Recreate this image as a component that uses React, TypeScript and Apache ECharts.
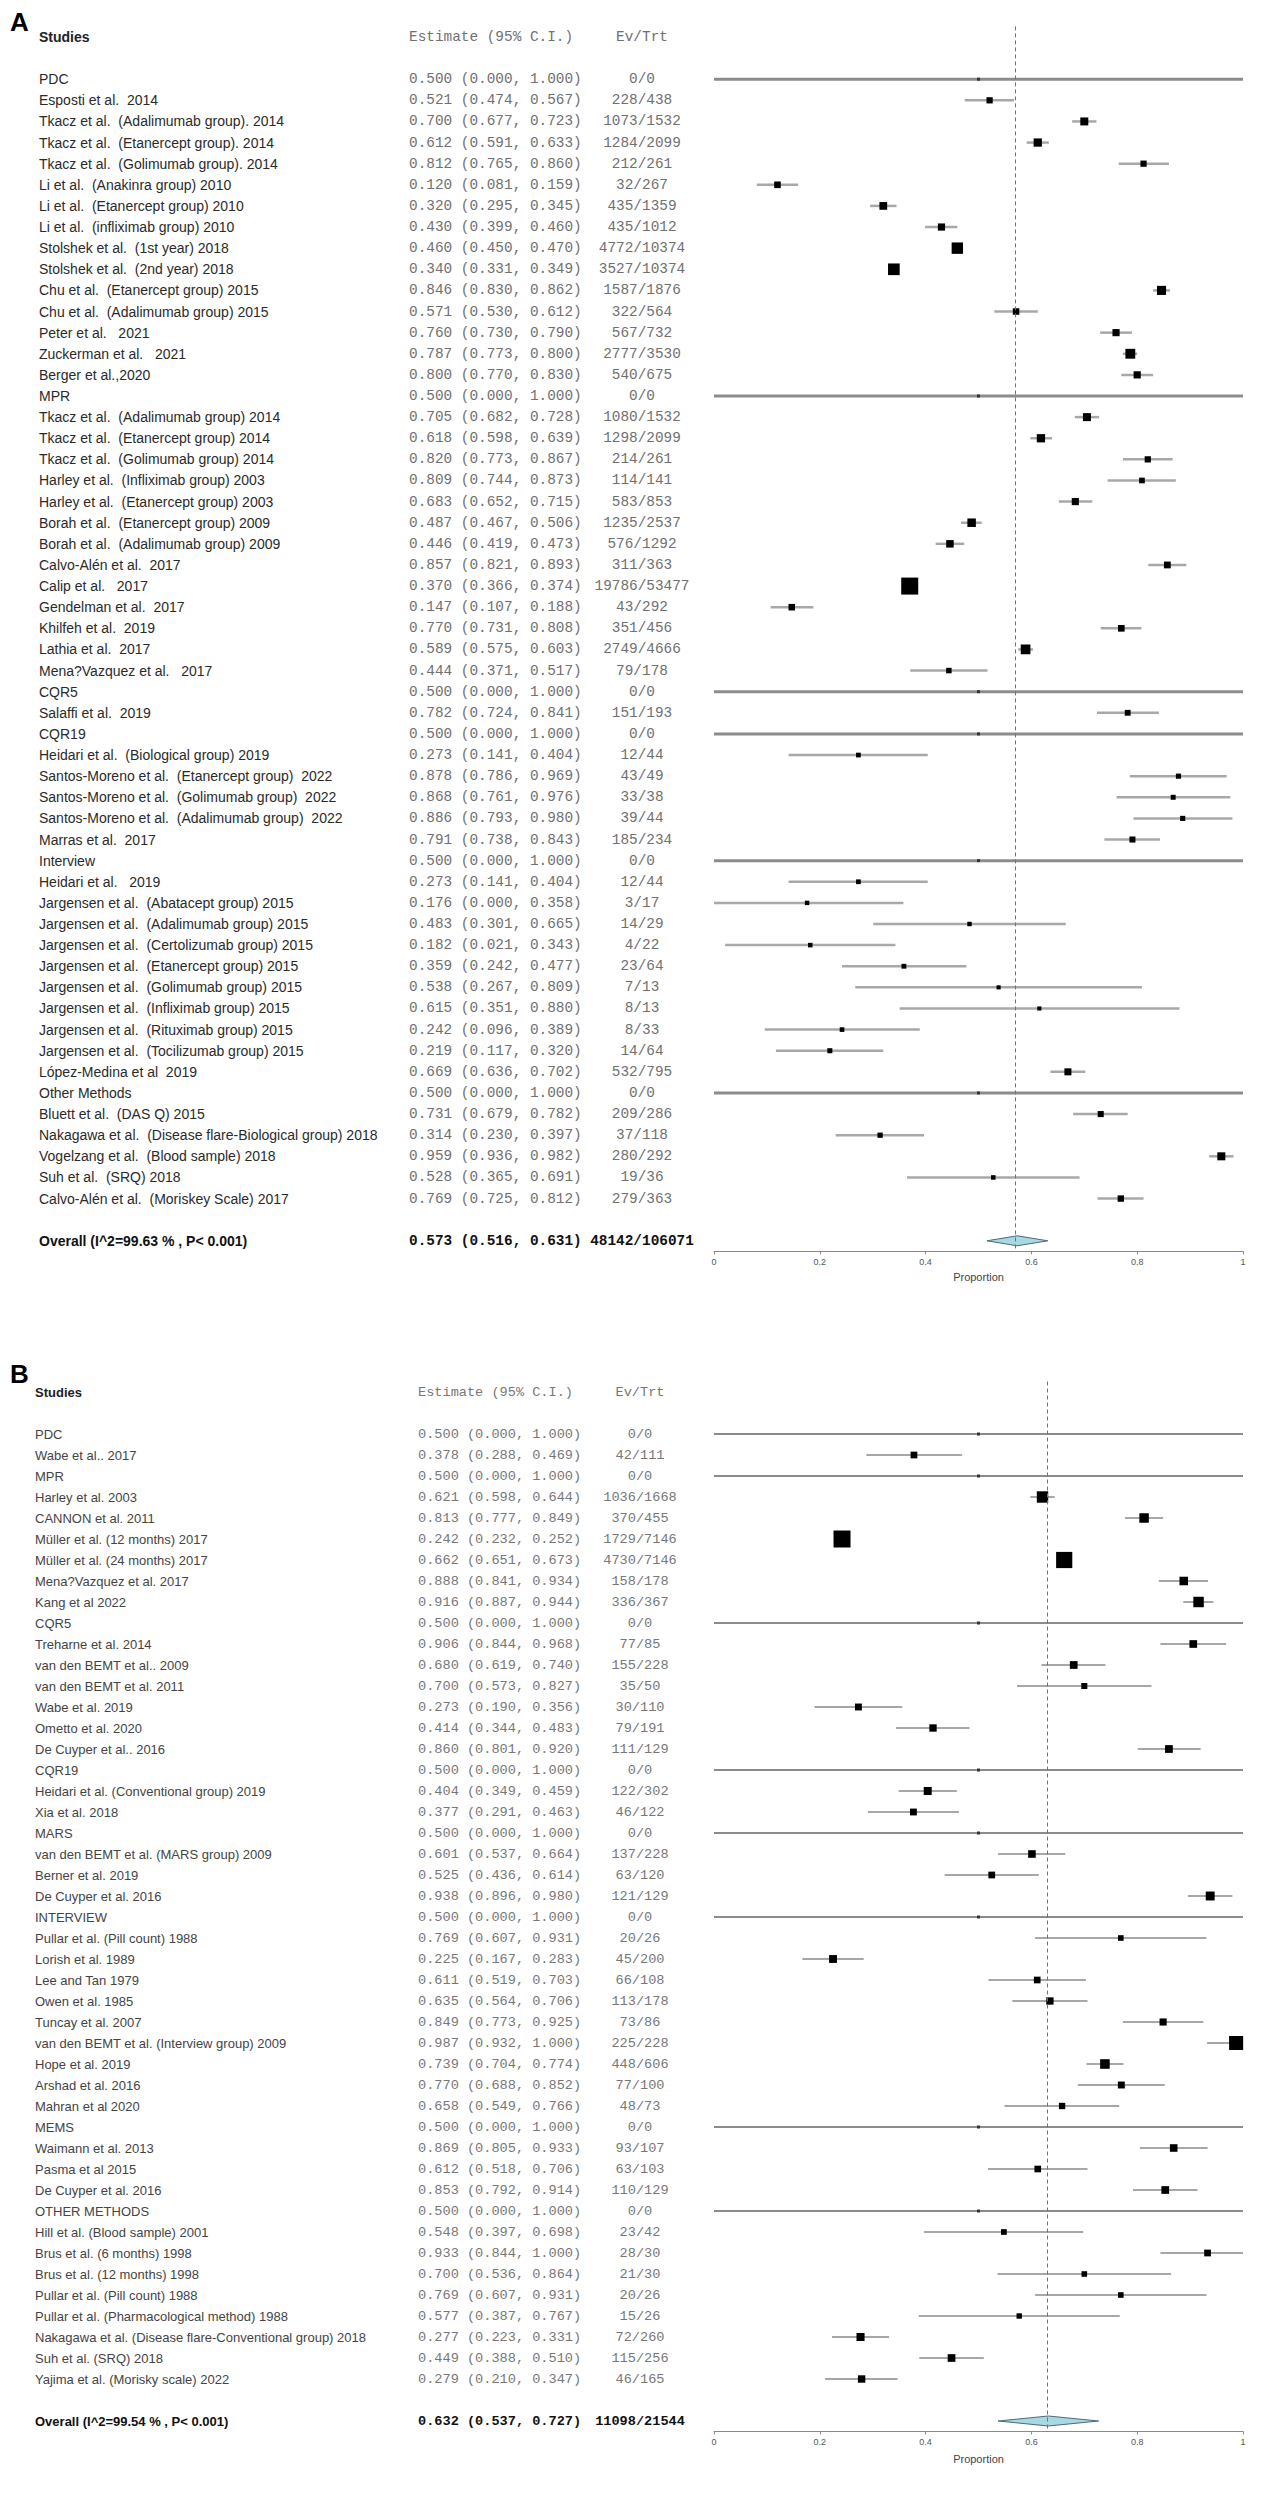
import React, { useEffect, useRef } from "react";
import * as echarts from "echarts";

// ---------- Panel A data ----------
const namesA: string[] = [
  "PDC",
  "Esposti et al.  2014",
  "Tkacz et al.  (Adalimumab group). 2014",
  "Tkacz et al.  (Etanercept group). 2014",
  "Tkacz et al.  (Golimumab group). 2014",
  "Li et al.  (Anakinra group) 2010",
  "Li et al.  (Etanercept group) 2010",
  "Li et al.  (infliximab group) 2010",
  "Stolshek et al.  (1st year) 2018",
  "Stolshek et al.  (2nd year) 2018",
  "Chu et al.  (Etanercept group) 2015",
  "Chu et al.  (Adalimumab group) 2015",
  "Peter et al.   2021",
  "Zuckerman et al.   2021",
  "Berger et al.,2020",
  "MPR",
  "Tkacz et al.  (Adalimumab group) 2014",
  "Tkacz et al.  (Etanercept group) 2014",
  "Tkacz et al.  (Golimumab group) 2014",
  "Harley et al.  (Infliximab group) 2003",
  "Harley et al.  (Etanercept group) 2003",
  "Borah et al.  (Etanercept group) 2009",
  "Borah et al.  (Adalimumab group) 2009",
  "Calvo-Alén et al.  2017",
  "Calip et al.   2017",
  "Gendelman et al.  2017",
  "Khilfeh et al.  2019",
  "Lathia et al.  2017",
  "Mena?Vazquez et al.   2017",
  "CQR5",
  "Salaffi et al.  2019",
  "CQR19",
  "Heidari et al.  (Biological group) 2019",
  "Santos-Moreno et al.  (Etanercept group)  2022",
  "Santos-Moreno et al.  (Golimumab group)  2022",
  "Santos-Moreno et al.  (Adalimumab group)  2022",
  "Marras et al.  2017",
  "Interview",
  "Heidari et al.   2019",
  "Jargensen et al.  (Abatacept group) 2015",
  "Jargensen et al.  (Adalimumab group) 2015",
  "Jargensen et al.  (Certolizumab group) 2015",
  "Jargensen et al.  (Etanercept group) 2015",
  "Jargensen et al.  (Golimumab group) 2015",
  "Jargensen et al.  (Infliximab group) 2015",
  "Jargensen et al.  (Rituximab group) 2015",
  "Jargensen et al.  (Tocilizumab group) 2015",
  "López-Medina et al  2019",
  "Other Methods",
  "Bluett et al.  (DAS Q) 2015",
  "Nakagawa et al.  (Disease flare-Biological group) 2018",
  "Vogelzang et al.  (Blood sample) 2018",
  "Suh et al.  (SRQ) 2018",
  "Calvo-Alén et al.  (Moriskey Scale) 2017",
];
const estA: number[] = [
  0.5, 0.521, 0.7, 0.612, 0.812, 0.12, 0.32, 0.43, 0.46, 0.34, 0.846, 0.571, 0.76, 0.787, 0.8,
  0.5, 0.705, 0.618, 0.82, 0.809, 0.683, 0.487, 0.446, 0.857, 0.37, 0.147, 0.77, 0.589, 0.444,
  0.5, 0.782,
  0.5, 0.273, 0.878, 0.868, 0.886, 0.791,
  0.5, 0.273, 0.176, 0.483, 0.182, 0.359, 0.538, 0.615, 0.242, 0.219, 0.669,
  0.5, 0.731, 0.314, 0.959, 0.528, 0.769,
];
const loA: number[] = [
  0.0, 0.474, 0.677, 0.591, 0.765, 0.081, 0.295, 0.399, 0.45, 0.331, 0.83, 0.53, 0.73, 0.773, 0.77,
  0.0, 0.682, 0.598, 0.773, 0.744, 0.652, 0.467, 0.419, 0.821, 0.366, 0.107, 0.731, 0.575, 0.371,
  0.0, 0.724,
  0.0, 0.141, 0.786, 0.761, 0.793, 0.738,
  0.0, 0.141, 0.0, 0.301, 0.021, 0.242, 0.267, 0.351, 0.096, 0.117, 0.636,
  0.0, 0.679, 0.23, 0.936, 0.365, 0.725,
];
const hiA: number[] = [
  1.0, 0.567, 0.723, 0.633, 0.86, 0.159, 0.345, 0.46, 0.47, 0.349, 0.862, 0.612, 0.79, 0.8, 0.83,
  1.0, 0.728, 0.639, 0.867, 0.873, 0.715, 0.506, 0.473, 0.893, 0.374, 0.188, 0.808, 0.603, 0.517,
  1.0, 0.841,
  1.0, 0.404, 0.969, 0.976, 0.98, 0.843,
  1.0, 0.404, 0.358, 0.665, 0.343, 0.477, 0.809, 0.88, 0.389, 0.32, 0.702,
  1.0, 0.782, 0.397, 0.982, 0.691, 0.812,
];
const evA: number[] = [
  0, 228, 1073, 1284, 212, 32, 435, 435, 4772, 3527, 1587, 322, 567, 2777, 540,
  0, 1080, 1298, 214, 114, 583, 1235, 576, 311, 19786, 43, 351, 2749, 79,
  0, 151,
  0, 12, 43, 33, 39, 185,
  0, 12, 3, 14, 4, 23, 7, 8, 8, 14, 532,
  0, 209, 37, 280, 19, 279,
];
const trtA: number[] = [
  0, 438, 1532, 2099, 261, 267, 1359, 1012, 10374, 10374, 1876, 564, 732, 3530, 675,
  0, 1532, 2099, 261, 141, 853, 2537, 1292, 363, 53477, 292, 456, 4666, 178,
  0, 193,
  0, 44, 49, 38, 44, 234,
  0, 44, 17, 29, 22, 64, 13, 13, 33, 64, 795,
  0, 286, 118, 292, 36, 363,
];
const overallLabelA = "Overall (I^2=99.63 % , P< 0.001)";
const overallA: number[] = [0.573, 0.516, 0.631];
const overallCountsA: number[] = [48142, 106071];

// ---------- Panel B data ----------
const namesB: string[] = [
  "PDC",
  "Wabe et al.. 2017",
  "MPR",
  "Harley et al. 2003",
  "CANNON et al. 2011",
  "Müller et al. (12 months) 2017",
  "Müller et al. (24 months) 2017",
  "Mena?Vazquez et al. 2017",
  "Kang et al 2022",
  "CQR5",
  "Treharne et al. 2014",
  "van den BEMT et al.. 2009",
  "van den BEMT et al. 2011",
  "Wabe et al. 2019",
  "Ometto et al. 2020",
  "De Cuyper et al.. 2016",
  "CQR19",
  "Heidari et al. (Conventional group) 2019",
  "Xia et al. 2018",
  "MARS",
  "van den BEMT et al. (MARS group) 2009",
  "Berner et al. 2019",
  "De Cuyper et al. 2016",
  "INTERVIEW",
  "Pullar et al. (Pill count) 1988",
  "Lorish et al. 1989",
  "Lee and Tan 1979",
  "Owen et al. 1985",
  "Tuncay et al. 2007",
  "van den BEMT et al. (Interview group) 2009",
  "Hope et al. 2019",
  "Arshad et al. 2016",
  "Mahran et al 2020",
  "MEMS",
  "Waimann et al. 2013",
  "Pasma et al 2015",
  "De Cuyper et al. 2016",
  "OTHER METHODS",
  "Hill et al. (Blood sample) 2001",
  "Brus et al. (6 months) 1998",
  "Brus et al. (12 months) 1998",
  "Pullar et al. (Pill count) 1988",
  "Pullar et al. (Pharmacological method) 1988",
  "Nakagawa et al. (Disease flare-Conventional group) 2018",
  "Suh et al. (SRQ) 2018",
  "Yajima et al. (Morisky scale) 2022",
];
const estB: number[] = [
  0.5, 0.378,
  0.5, 0.621, 0.813, 0.242, 0.662, 0.888, 0.916,
  0.5, 0.906, 0.68, 0.7, 0.273, 0.414, 0.86,
  0.5, 0.404, 0.377,
  0.5, 0.601, 0.525, 0.938,
  0.5, 0.769, 0.225, 0.611, 0.635, 0.849, 0.987, 0.739, 0.77, 0.658,
  0.5, 0.869, 0.612, 0.853,
  0.5, 0.548, 0.933, 0.7, 0.769, 0.577, 0.277, 0.449, 0.279,
];
const loB: number[] = [
  0.0, 0.288,
  0.0, 0.598, 0.777, 0.232, 0.651, 0.841, 0.887,
  0.0, 0.844, 0.619, 0.573, 0.19, 0.344, 0.801,
  0.0, 0.349, 0.291,
  0.0, 0.537, 0.436, 0.896,
  0.0, 0.607, 0.167, 0.519, 0.564, 0.773, 0.932, 0.704, 0.688, 0.549,
  0.0, 0.805, 0.518, 0.792,
  0.0, 0.397, 0.844, 0.536, 0.607, 0.387, 0.223, 0.388, 0.21,
];
const hiB: number[] = [
  1.0, 0.469,
  1.0, 0.644, 0.849, 0.252, 0.673, 0.934, 0.944,
  1.0, 0.968, 0.74, 0.827, 0.356, 0.483, 0.92,
  1.0, 0.459, 0.463,
  1.0, 0.664, 0.614, 0.98,
  1.0, 0.931, 0.283, 0.703, 0.706, 0.925, 1.0, 0.774, 0.852, 0.766,
  1.0, 0.933, 0.706, 0.914,
  1.0, 0.698, 1.0, 0.864, 0.931, 0.767, 0.331, 0.51, 0.347,
];
const evB: number[] = [
  0, 42,
  0, 1036, 370, 1729, 4730, 158, 336,
  0, 77, 155, 35, 30, 79, 111,
  0, 122, 46,
  0, 137, 63, 121,
  0, 20, 45, 66, 113, 73, 225, 448, 77, 48,
  0, 93, 63, 110,
  0, 23, 28, 21, 20, 15, 72, 115, 46,
];
const trtB: number[] = [
  0, 111,
  0, 1668, 455, 7146, 7146, 178, 367,
  0, 85, 228, 50, 110, 191, 129,
  0, 302, 122,
  0, 228, 120, 129,
  0, 26, 200, 108, 178, 86, 228, 606, 100, 73,
  0, 107, 103, 129,
  0, 42, 30, 30, 26, 26, 260, 256, 165,
];
const overallLabelB = "Overall (I^2=99.54 % , P< 0.001)";
const overallB: number[] = [0.632, 0.537, 0.727];
const overallCountsB: number[] = [11098, 21544];

const xTicks: number[] = [0, 0.2, 0.4, 0.6, 0.8, 1];

const SANS = "'Liberation Sans', Arial, sans-serif";
const MONO = "'Courier New', 'Liberation Mono', monospace";

const PLOT_LEFT = 714;
const PLOT_WIDTH = 529;

interface PanelData {
  names: string[];
  est: number[];
  lo: number[];
  hi: number[];
  ev: number[];
  trt: number[];
  overallLabel: string;
  overall: number[];
  overallCounts: number[];
}
interface PanelLayout {
  top: number;
  rowH: number;
  nameX: number;
  nameSize: number;
  estX: number;
  evX: number;
  monoSize: number;
  nameColor: string;
  monoColor: string;
  ciColor: string;
  ciWidth: number;
  hdrColor: string;
  hdrWidth: number;
  nameGap: number;
}

function buildPanel(d: PanelData, gi: number, L: PanelLayout) {
  const n = d.names.length;
  const rows = n + 4;
  const cats = Array.from({ length: rows }, (_, i) => String(i));
  const fmt = (v: number) => v.toFixed(3);

  const weights = d.trt.map((t, i) => (t > 0 ? t / (d.est[i] * (1 - d.est[i])) : 0));
  const wmax = Math.max(...weights);
  const sizes = weights.map((w) => (w > 0 ? 3 + 14 * Math.pow(w / wmax, 0.3) : 3));

  const grid = { left: PLOT_LEFT, width: PLOT_WIDTH, top: L.top, height: rows * L.rowH };
  const xAxis = {
    gridIndex: gi,
    type: "value",
    min: 0,
    max: 1,
    interval: 0.2,
    position: "bottom",
    name: "Proportion",
    nameLocation: "middle",
    nameGap: L.nameGap,
    nameTextStyle: { fontFamily: SANS, fontSize: 11, color: "#444" },
    axisLine: { show: true, lineStyle: { color: "#8a8a8a", width: 1 } },
    axisTick: { show: true, length: 3, lineStyle: { color: "#8a8a8a" } },
    splitLine: { show: false },
    axisLabel: {
      fontFamily: SANS,
      fontSize: 9,
      color: "#555",
      margin: 6,
      formatter: (v: number) => {
        const t = xTicks.find((x) => Math.abs(x - v) < 1e-6);
        return t === undefined ? "" : String(t);
      },
    },
  };

  const baseY = {
    gridIndex: gi,
    type: "category",
    inverse: true,
    data: cats,
    position: "left",
    axisLine: { show: false },
    axisTick: { show: false },
    splitLine: { show: false },
  };
  const nameRich = {
    h: { fontFamily: SANS, fontSize: L.nameSize, fontWeight: "bold", color: "#222" },
    n: { fontFamily: SANS, fontSize: L.nameSize, color: L.nameColor },
    b: { fontFamily: SANS, fontSize: L.nameSize, fontWeight: "bold", color: "#111" },
  };
  const monoRich = {
    h: { fontFamily: MONO, fontSize: L.monoSize, color: L.monoColor },
    n: { fontFamily: MONO, fontSize: L.monoSize, color: L.monoColor },
    b: { fontFamily: MONO, fontSize: L.monoSize, fontWeight: "bold", color: "#111" },
  };
  const yNames = {
    ...baseY,
    axisLabel: {
      interval: 0,
      align: "left",
      margin: PLOT_LEFT - L.nameX,
      rich: nameRich,
      formatter: (v: string) => {
        const i = Number(v);
        if (i === 0) return "{h|Studies}";
        if (i === n + 3) return "{b|" + d.overallLabel + "}";
        if (i < 2 || i > n + 1) return "";
        return "{n|" + d.names[i - 2] + "}";
      },
    },
  };
  const yEst = {
    ...baseY,
    axisLabel: {
      interval: 0,
      align: "left",
      margin: PLOT_LEFT - L.estX,
      rich: monoRich,
      formatter: (v: string) => {
        const i = Number(v);
        if (i === 0) return "{h|Estimate (95% C.I.)}";
        if (i === n + 3)
          return "{b|" + fmt(d.overall[0]) + " (" + fmt(d.overall[1]) + ", " + fmt(d.overall[2]) + ")}";
        if (i < 2 || i > n + 1) return "";
        const k = i - 2;
        return "{n|" + fmt(d.est[k]) + " (" + fmt(d.lo[k]) + ", " + fmt(d.hi[k]) + ")}";
      },
    },
  };
  const yEv = {
    ...baseY,
    axisLabel: {
      interval: 0,
      align: "center",
      margin: PLOT_LEFT - L.evX,
      rich: monoRich,
      formatter: (v: string) => {
        const i = Number(v);
        if (i === 0) return "{h|Ev/Trt}";
        if (i === n + 3) return "{b|" + d.overallCounts[0] + "/" + d.overallCounts[1] + "}";
        if (i < 2 || i > n + 1) return "";
        const k = i - 2;
        return "{n|" + d.ev[k] + "/" + d.trt[k] + "}";
      },
    },
  };

  const yBase = gi * 3;
  const studyData = d.names.map((_, k) => [
    d.lo[k],
    d.hi[k],
    k + 2,
    d.est[k],
    sizes[k],
    d.trt[k] === 0 ? 1 : 0,
  ]);

  const series: any[] = [
    {
      type: "custom",
      xAxisIndex: gi,
      yAxisIndex: yBase,
      data: studyData,
      encode: { x: [0, 1, 3], y: 2 },
      renderItem: (_p: any, api: any) => {
        const lo = api.value(0);
        const hi = api.value(1);
        const row = api.value(2);
        const est = api.value(3);
        const size = api.value(4);
        const hdr = api.value(5) === 1;
        const a = api.coord([lo, row]);
        const b = api.coord([hi, row]);
        const c = api.coord([est, row]);
        return {
          type: "group",
          children: [
            {
              type: "line",
              shape: { x1: a[0], y1: a[1], x2: b[0], y2: b[1] },
              style: { stroke: hdr ? L.hdrColor : L.ciColor, lineWidth: hdr ? L.hdrWidth : L.ciWidth },
            },
            {
              type: "rect",
              shape: { x: c[0] - size / 2, y: c[1] - size / 2, width: size, height: size },
              style: { fill: hdr ? "#333" : "#000" },
            },
          ],
        };
      },
    },
    {
      type: "custom",
      xAxisIndex: gi,
      yAxisIndex: yBase,
      data: [[d.overall[1], d.overall[2], n + 3, d.overall[0]]],
      encode: { x: [0, 1, 3], y: 2 },
      renderItem: (_p: any, api: any) => {
        const row = api.value(2);
        const a = api.coord([api.value(0), row]);
        const b = api.coord([api.value(1), row]);
        const c = api.coord([api.value(3), row]);
        const h = 5;
        return {
          type: "polygon",
          shape: { points: [[a[0], a[1]], [c[0], c[1] - h], [b[0], b[1]], [c[0], c[1] + h]] },
          style: { fill: "#a9d7e4", stroke: "#4a6b78", lineWidth: 1 },
        };
      },
    },
    {
      type: "scatter",
      xAxisIndex: gi,
      yAxisIndex: yBase,
      data: [[d.overall[0], n + 3]],
      symbolSize: 0,
      silent: true,
      markLine: {
        silent: true,
        symbol: ["none", "none"],
        label: { show: false },
        lineStyle: { color: "#e0453a", type: [4, 3], width: 1 },
        data: [{ xAxis: d.overall[0] }],
      },
    },
  ];

  return { grid, xAxis, yAxes: [yNames, yEst, yEv], series };
}

export default function App() {
  const ref = useRef<HTMLDivElement>(null);
  useEffect(() => {
    if (!ref.current) return;
    const chart = echarts.init(ref.current, undefined, { renderer: "svg" });
    const A = buildPanel(
      {
        names: namesA, est: estA, lo: loA, hi: hiA, ev: evA, trt: trtA,
        overallLabel: overallLabelA, overall: overallA, overallCounts: overallCountsA,
      },
      0,
      {
        top: 26.4, rowH: 21.12, nameX: 39, nameSize: 14, estX: 409, evX: 642, monoSize: 14.4,
        nameColor: "#2a2a2a", monoColor: "#707070", ciColor: "#a8a8a8", ciWidth: 2.5,
        hdrColor: "#8c8c8c", hdrWidth: 3, nameGap: 20,
      }
    );
    const B = buildPanel(
      {
        names: namesB, est: estB, lo: loB, hi: hiB, ev: evB, trt: trtB,
        overallLabel: overallLabelB, overall: overallB, overallCounts: overallCountsB,
      },
      1,
      {
        top: 1381.5, rowH: 21.0, nameX: 35, nameSize: 13, estX: 418, evX: 640, monoSize: 13.6,
        nameColor: "#444", monoColor: "#777", ciColor: "#8a8a8a", ciWidth: 1.5,
        hdrColor: "#666", hdrWidth: 1.5, nameGap: 22,
      }
    );
    chart.setOption({
      animation: false,
      backgroundColor: "#ffffff",
      title: [
        { text: "A", left: 5, top: 4, textStyle: { fontFamily: SANS, fontSize: 26, fontWeight: "bold", color: "#000" } },
        { text: "B", left: 5, top: 1356, textStyle: { fontFamily: SANS, fontSize: 26, fontWeight: "bold", color: "#000" } },
      ],
      grid: [A.grid, B.grid],
      xAxis: [A.xAxis, B.xAxis],
      yAxis: [...A.yAxes, ...B.yAxes],
      series: [...A.series, ...B.series],
    });
    return () => chart.dispose();
  }, []);
  return (
    <div
      ref={ref}
      style={{ position: "absolute", left: 0, top: 0, width: 1261, height: 2500, background: "#fff" }}
    />
  );
}
